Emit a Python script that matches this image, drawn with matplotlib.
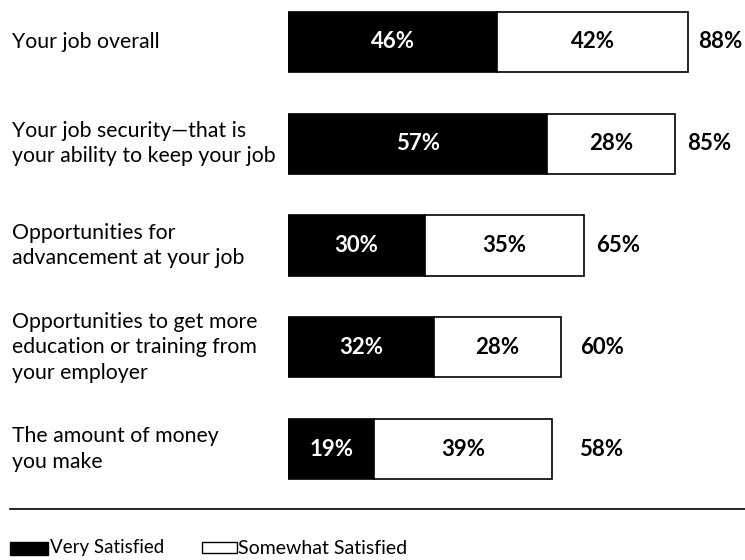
import matplotlib
matplotlib.use("Agg")
import matplotlib.pyplot as plt
from matplotlib.patches import Rectangle
import matplotlib.transforms as mtransforms

categories = [
    "Your job overall",
    "Your job security\u2014that is\nyour ability to keep your job",
    "Opportunities for\nadvancement at your job",
    "Opportunities to get more\neducation or training from\nyour employer",
    "The amount of money\nyou make",
]
very_satisfied = [46, 57, 30, 32, 19]
somewhat_satisfied = [42, 28, 35, 28, 39]
totals = [88, 85, 65, 60, 58]
legend_labels = ["Very Satisfied", "Somewhat Satisfied"]

# layout (pixels)
W, H = 745, 560
total_dx = [10, 12, 12, 19, 27]       # gap between bar end and total label

plt.rcParams["font.family"] = ["Lato", "DejaVu Sans"]

fig = plt.figure(figsize=(W / 100, H / 100), dpi=100)
row_px = 101.75
left_px, scale = 288, 4.55
top_px = 42 - 0.4 * row_px
ax = fig.add_axes([left_px / W, 1 - (top_px + 4.8 * row_px) / H,
                   100 * scale / W, 4.8 * row_px / H])
ax.set_xlim(0, 100)
ax.set_ylim(4.4, -0.4)
ax.axis("off")

y = list(range(len(categories)))
bh = 0.59
ax.barh(y, very_satisfied, height=bh, color="black", edgecolor="black", linewidth=1.2)
ax.barh(y, somewhat_satisfied, left=very_satisfied, height=bh, color="white",
        edgecolor="black", linewidth=1.2)

px = mtransforms.ScaledTranslation
label_trans = mtransforms.blended_transform_factory(fig.transFigure, ax.transData)
for i in y:
    v, s, t = very_satisfied[i], somewhat_satisfied[i], totals[i]
    ax.text(v / 2, i, f"{v}%", color="white", ha="center", va="center",
            fontsize=16, fontweight="bold")
    ax.text(v + s / 2, i, f"{s}%", color="black", ha="center", va="center",
            fontsize=16, fontweight="bold")
    ax.text(v + s, i, f"{t}%", color="black", ha="left", va="center",
            fontsize=16, fontweight="bold",
            transform=ax.transData + px(total_dx[i] / 100, 0, fig.dpi_scale_trans))
    ax.text(12 / W, i, categories[i], ha="left", va="center", fontsize=15.3,
            linespacing=1.33, transform=label_trans)

# separator line
fig.add_artist(plt.Line2D([10 / W, 1.0], [1 - 509 / H, 1 - 509 / H],
                          color="black", linewidth=1.2))

# legend
fig.add_artist(Rectangle((10 / W, 1 - 555 / H), 38 / W, 13 / H,
                         facecolor="black", edgecolor="black", linewidth=1))
fig.text(50 / W, 1 - 548 / H, legend_labels[0], ha="left", va="center", fontsize=13.5)
fig.add_artist(Rectangle((202 / W, 1 - 553 / H), 35 / W, 11 / H,
                         facecolor="white", edgecolor="black", linewidth=1))
fig.text(238 / W, 1 - 548 / H, legend_labels[1], ha="left", va="center", fontsize=14)

fig.savefig("out.png", dpi=100, facecolor="white")
